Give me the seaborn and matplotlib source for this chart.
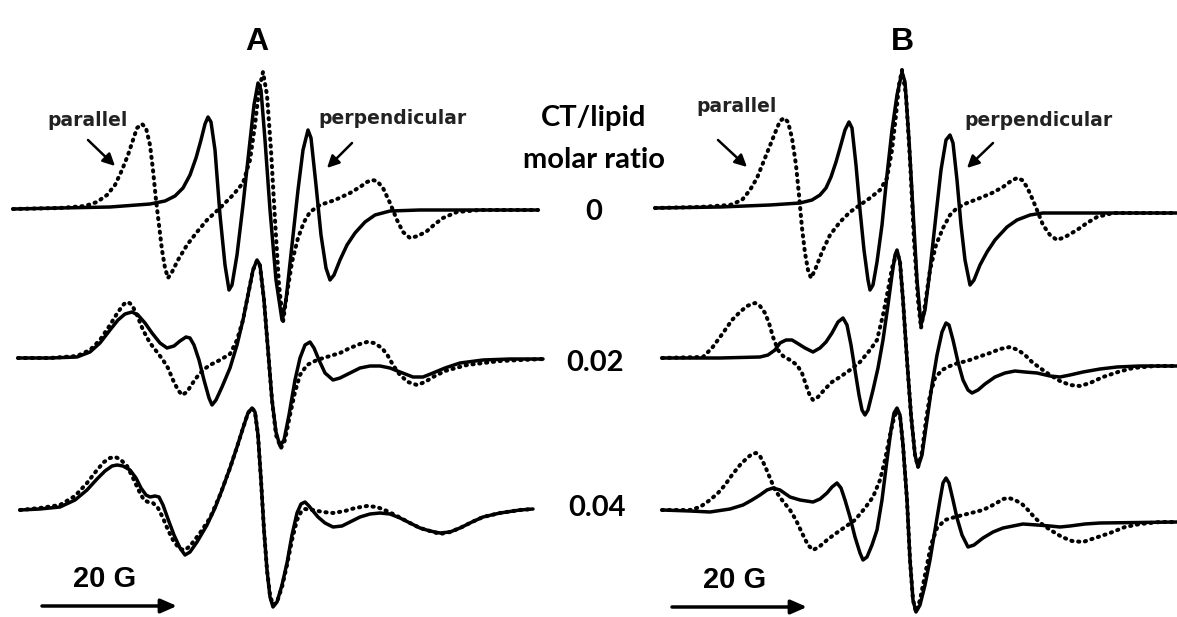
import matplotlib
matplotlib.use("Agg")
import matplotlib.pyplot as plt
import seaborn as sns
import pandas as pd

# ---------------- data (image-pixel frame) ----------------
# Panel A, ratio 0
A0_solid_x = [13, 60, 110, 150, 165, 175, 183, 190, 196, 201, 205, 208, 211, 215, 220, 225, 229, 232, 237, 243, 249, 254, 258, 261, 265, 270, 276, 282, 286, 292, 298, 303, 308, 311, 316, 321, 326, 330, 334, 340, 347, 355, 365, 375, 390, 420, 480, 538]
A0_solid_y = [209, 208, 207, 204, 201, 196, 188, 175, 158, 140, 124, 117, 122, 150, 215, 265, 290, 285, 255, 205, 150, 105, 83, 90, 140, 210, 280, 320, 300, 245, 190, 150, 130, 138, 185, 235, 268, 280, 275, 260, 245, 233, 222, 215, 211, 210, 210, 210]
A0_dot_x = [13, 60, 85, 97, 107, 115, 122, 128, 133, 137, 142, 146, 150, 153, 156, 159, 162, 165, 168, 172, 178, 187, 197, 207, 220, 233, 243, 250, 255, 259, 263, 267, 271, 275, 279, 283, 286, 292, 298, 304, 310, 320, 335, 350, 360, 367, 372, 377, 383, 390, 397, 403, 410, 418, 427, 435, 443, 457, 480, 538]
A0_dot_y = [209, 208, 206, 202, 195, 185, 170, 155, 140, 128, 124, 128, 145, 170, 200, 225, 250, 268, 278, 272, 260, 245, 232, 220, 208, 195, 183, 160, 125, 90, 72, 95, 150, 220, 285, 322, 300, 262, 238, 222, 212, 205, 200, 193, 187, 182, 180, 181, 188, 203, 220, 232, 238, 236, 231, 224, 218, 212, 210, 210]

# Panel A, ratio 0.02
A1_solid_x = [18, 50, 77, 90, 100, 110, 118, 125, 132, 138, 145, 152, 160, 167, 174, 180, 186, 190, 194, 199, 204, 209, 212, 216, 222, 230, 237, 243, 248, 253, 257, 260, 264, 268, 272, 276, 280, 284, 289, 295, 300, 305, 310, 314, 319, 325, 333, 340, 350, 360, 370, 380, 390, 400, 413, 423, 433, 445, 460, 483, 510, 543]
A1_solid_y = [358, 358, 357, 352, 343, 330, 320, 314, 312, 315, 323, 333, 343, 348, 346, 341, 337, 338, 345, 360, 380, 398, 405, 400, 387, 368, 345, 320, 295, 270, 260, 265, 300, 350, 400, 432, 446, 440, 415, 380, 358, 345, 342, 348, 360, 373, 380, 378, 373, 368, 366, 366, 368, 372, 377, 377, 373, 368, 363, 360, 359, 359]
A1_dot_x = [18, 50, 77, 90, 100, 110, 118, 124, 128, 132, 137, 143, 150, 157, 163, 168, 173, 178, 182, 187, 192, 197, 203, 210, 220, 230, 237, 243, 248, 253, 257, 260, 264, 268, 272, 276, 281, 285, 290, 295, 300, 307, 317, 330, 340, 350, 360, 367, 374, 382, 388, 393, 400, 408, 417, 425, 433, 445, 467, 500, 543]
A1_dot_y = [358, 358, 356, 350, 340, 325, 312, 304, 302, 305, 315, 330, 343, 352, 360, 368, 380, 390, 395, 392, 384, 377, 370, 365, 360, 354, 340, 320, 295, 270, 261, 266, 300, 350, 400, 435, 448, 440, 415, 392, 375, 365, 360, 356, 353, 348, 344, 342, 343, 348, 356, 365, 375, 382, 385, 382, 377, 371, 365, 361, 359]

# Panel A, ratio 0.04
A2_solid_x = [20, 40, 60, 75, 87, 97, 105, 112, 117, 123, 130, 136, 141, 146, 150, 155, 159, 163, 168, 174, 180, 185, 190, 197, 207, 215, 222, 230, 237, 243, 248, 252, 255, 258, 261, 264, 267, 270, 273, 277, 282, 287, 292, 297, 301, 305, 309, 313, 318, 325, 333, 342, 350, 360, 370, 380, 390, 400, 410, 420, 430, 440, 450, 460, 472, 483, 500, 520, 533]
A2_solid_y = [510, 509, 507, 500, 490, 479, 471, 466, 465, 466, 470, 478, 488, 495, 497, 496, 497, 505, 519, 535, 548, 555, 552, 542, 525, 508, 490, 468, 447, 428, 413, 408, 412, 435, 480, 530, 570, 597, 607, 602, 585, 563, 535, 513, 504, 502, 506, 511, 517, 523, 527, 526, 522, 517, 514, 513, 514, 518, 523, 528, 531, 533, 532, 528, 522, 517, 513, 510, 509]
A2_dot_x = [20, 40, 60, 75, 87, 97, 104, 110, 115, 120, 127, 133, 140, 144, 148, 153, 158, 163, 168, 174, 180, 185, 190, 200, 210, 220, 230, 237, 243, 248, 252, 255, 258, 261, 264, 267, 270, 273, 277, 282, 287, 292, 297, 301, 305, 313, 323, 333, 345, 355, 367, 377, 387, 397, 410, 420, 430, 440, 450, 460, 472, 483, 500, 520, 533]
A2_dot_y = [510, 508, 505, 496, 483, 470, 462, 458, 457, 459, 466, 478, 493, 500, 502, 503, 508, 518, 530, 542, 549, 550, 546, 533, 518, 495, 468, 447, 428, 413, 408, 412, 435, 480, 530, 570, 595, 605, 602, 587, 565, 540, 520, 512, 509, 510, 512, 513, 511, 508, 506, 507, 511, 516, 523, 528, 531, 534, 532, 528, 522, 517, 513, 510, 509]

# Panel B, ratio 0
B0_solid_x = [655, 720, 770, 800, 812, 820, 826, 831, 836, 840, 845, 849, 852, 856, 860, 864, 868, 870, 873, 877, 882, 887, 892, 897, 902, 905, 909, 913, 917, 921, 925, 930, 936, 941, 946, 950, 953, 957, 961, 965, 970, 974, 980, 987, 995, 1007, 1017, 1030, 1043, 1100, 1177]
B0_solid_y = [208, 207, 205, 203, 200, 195, 188, 177, 162, 148, 130, 122, 128, 165, 210, 250, 280, 290, 285, 262, 225, 175, 130, 95, 72, 82, 140, 210, 280, 325, 310, 270, 215, 170, 140, 135, 143, 180, 225, 260, 285, 280, 265, 252, 240, 227, 220, 215, 213, 213, 213]
B0_dot_x = [655, 700, 730, 742, 750, 757, 763, 769, 775, 780, 784, 788, 792, 796, 799, 802, 805, 808, 811, 815, 822, 830, 840, 850, 860, 870, 880, 887, 892, 896, 899, 902, 906, 910, 914, 918, 921, 925, 930, 936, 943, 950, 957, 967, 980, 992, 1003, 1011, 1017, 1022, 1027, 1032, 1037, 1043, 1050, 1057, 1065, 1077, 1087, 1097, 1113, 1177]
B0_dot_y = [208, 207, 205, 200, 190, 178, 163, 148, 133, 121, 118, 122, 138, 165, 195, 228, 253, 270, 278, 270, 252, 235, 222, 212, 205, 198, 190, 178, 150, 115, 85, 70, 95, 160, 240, 300, 328, 305, 270, 245, 228, 215, 208, 203, 198, 193, 187, 181, 178, 180, 187, 198, 210, 225, 235, 240, 237, 230, 223, 217, 213, 213]

# Panel B, ratio 0.02
B1_solid_x = [662, 720, 760, 768, 775, 780, 786, 792, 797, 805, 813, 820, 826, 832, 838, 843, 847, 851, 855, 859, 862, 865, 868, 873, 878, 883, 888, 892, 895, 897, 900, 903, 907, 911, 915, 918, 922, 927, 932, 937, 942, 946, 949, 953, 958, 963, 968, 972, 978, 985, 995, 1005, 1015, 1025, 1037, 1050, 1060, 1070, 1083, 1100, 1117, 1140, 1177]
B1_solid_y = [358, 358, 357, 355, 350, 343, 340, 340, 343, 348, 352, 348, 342, 333, 322, 318, 325, 345, 370, 395, 410, 415, 410, 390, 368, 340, 305, 275, 255, 250, 262, 300, 360, 415, 455, 467, 455, 420, 385, 355, 332, 323, 325, 340, 362, 380, 390, 393, 390, 384, 377, 373, 371, 372, 373, 376, 377, 375, 372, 369, 367, 366, 366]
B1_dot_x = [662, 703, 712, 723, 732, 740, 747, 755, 760, 765, 769, 773, 778, 783, 790, 797, 802, 806, 810, 813, 818, 825, 832, 840, 850, 860, 870, 877, 883, 888, 892, 897, 900, 903, 907, 911, 915, 918, 922, 926, 930, 935, 942, 950, 958, 967, 978, 990, 1000, 1010, 1018, 1025, 1032, 1040, 1050, 1060, 1070, 1080, 1090, 1103, 1118, 1133, 1155, 1177]
B1_dot_y = [358, 357, 348, 333, 320, 312, 306, 303, 306, 313, 323, 337, 350, 356, 360, 365, 373, 385, 396, 400, 397, 389, 382, 377, 370, 362, 350, 340, 315, 290, 268, 252, 262, 300, 360, 415, 455, 467, 452, 420, 395, 378, 370, 366, 363, 361, 357, 353, 349, 347, 350, 355, 362, 368, 375, 381, 385, 386, 383, 377, 372, 368, 366, 366]

# Panel B, ratio 0.04
B2_solid_x = [662, 690, 710, 730, 743, 752, 760, 767, 773, 780, 790, 800, 813, 820, 827, 832, 837, 841, 845, 850, 855, 860, 863, 867, 872, 877, 882, 887, 891, 894, 897, 900, 903, 907, 910, 913, 916, 920, 925, 930, 935, 940, 943, 946, 949, 953, 957, 962, 968, 974, 983, 993, 1003, 1013, 1023, 1037, 1050, 1060, 1070, 1085, 1100, 1177]
B2_solid_y = [510, 511, 512, 509, 505, 500, 495, 490, 488, 490, 497, 500, 502, 499, 493, 487, 483, 488, 500, 517, 537, 553, 560, 557, 545, 530, 500, 460, 430, 413, 408, 415, 445, 500, 560, 600, 612, 605, 585, 560, 530, 500, 483, 478, 483, 500, 518, 535, 547, 545, 538, 532, 528, 526, 524, 525, 526, 527, 526, 524, 523, 522]
B2_dot_x = [662, 690, 700, 710, 718, 725, 732, 740, 747, 752, 756, 760, 765, 770, 775, 782, 790, 796, 802, 808, 813, 819, 827, 835, 845, 855, 865, 873, 880, 885, 890, 894, 897, 900, 903, 907, 910, 913, 916, 920, 925, 931, 937, 945, 955, 967, 983, 995, 1003, 1009, 1015, 1022, 1028, 1035, 1043, 1052, 1062, 1072, 1083, 1095, 1110, 1125, 1140, 1160, 1177]
B2_dot_y = [510, 510, 507, 500, 493, 485, 475, 465, 458, 454, 453, 456, 466, 478, 490, 500, 510, 520, 533, 545, 550, 547, 540, 534, 527, 520, 508, 497, 480, 460, 435, 418, 410, 416, 445, 500, 560, 600, 612, 600, 575, 545, 528, 520, 517, 514, 510, 504, 499, 498, 500, 504, 510, 518, 525, 531, 537, 541, 542, 538, 533, 527, 524, 522, 522]

panel_labels = ["A", "B"]
ratio_labels = ["0", "0.02", "0.04"]
ratio_title = ["CT/lipid", "molar ratio"]
scale_label = "20 G"
orient_labels = ["parallel", "perpendicular"]

# ---------------- figure ----------------
sns.set_theme(style="white")
plt.rcParams["font.family"] = ["DejaVu Sans"]

fig = plt.figure(figsize=(11.77, 6.17), dpi=100)
ax = fig.add_axes([0, 0, 1, 1])

curves = [
    (A0_solid_x, A0_solid_y, "solid"), (A0_dot_x, A0_dot_y, "dot"),
    (A1_solid_x, A1_solid_y, "solid"), (A1_dot_x, A1_dot_y, "dot"),
    (A2_solid_x, A2_solid_y, "solid"), (A2_dot_x, A2_dot_y, "dot"),
    (B0_solid_x, B0_solid_y, "solid"), (B0_dot_x, B0_dot_y, "dot"),
    (B1_solid_x, B1_solid_y, "solid"), (B1_dot_x, B1_dot_y, "dot"),
    (B2_solid_x, B2_solid_y, "solid"), (B2_dot_x, B2_dot_y, "dot"),
]
for xs, ys, kind in curves:
    df = pd.DataFrame({"field": xs, "signal": ys})
    if kind == "solid":
        sns.lineplot(data=df, x="field", y="signal", ax=ax, sort=False, estimator=None,
                     color="black", linewidth=2.5, solid_joinstyle="round", solid_capstyle="round")
    else:
        sns.lineplot(data=df, x="field", y="signal", ax=ax, sort=False, estimator=None,
                     color="black", linewidth=2.9, linestyle=(0, (0.3, 1.4)),
                     dash_capstyle="round", dash_joinstyle="round")

ax.set_xlim(0, 1177)
ax.set_ylim(617, 0)
ax.set_axis_off()

# panel letters
ax.text(257, 42, panel_labels[0], ha="center", va="center", fontsize=23, fontweight="bold",
        family="Liberation Sans", color="black")
ax.text(902, 42, panel_labels[1], ha="center", va="center", fontsize=23, fontweight="bold",
        family="Liberation Sans", color="black")

# orientation labels and arrows
lab_kw = dict(ha="center", va="center", fontsize=13.5, fontweight="bold", color="#222222")
ax.text(88, 120, orient_labels[0], **lab_kw)
ax.text(392, 119, orient_labels[1], **lab_kw)
ax.text(737, 107, orient_labels[0], **lab_kw)
ax.text(1038, 120, orient_labels[1], **lab_kw)
arr_kw = dict(arrowstyle="-|>,head_length=0.6,head_width=0.3", color="black", lw=1.8, shrinkA=0, shrinkB=0)
ax.annotate("", xy=(115, 166), xytext=(88, 140), arrowprops=arr_kw)
ax.annotate("", xy=(327, 168), xytext=(352, 143), arrowprops=arr_kw)
ax.annotate("", xy=(747, 167), xytext=(718, 140), arrowprops=arr_kw)
ax.annotate("", xy=(967, 168), xytext=(993, 143), arrowprops=arr_kw)

# centre labels
cen_kw = dict(ha="center", va="center", fontsize=21, fontweight="bold", family="Lato", color="black")
ax.text(594, 118, ratio_title[0], **cen_kw)
ax.text(594, 160, ratio_title[1], **cen_kw)
ax.text(594, 212, ratio_labels[0], **cen_kw)
ax.text(595, 363, ratio_labels[1], **cen_kw)
ax.text(597, 508, ratio_labels[2], **cen_kw)

# scale bars
sc_kw = dict(ha="center", va="center", fontsize=21, fontweight="bold", family="Liberation Sans", color="black")
ax.text(105, 579, scale_label, **sc_kw)
ax.text(735, 580, scale_label, **sc_kw)
bar_kw = dict(arrowstyle="-|>,head_length=0.8,head_width=0.35", color="black", lw=2.5, shrinkA=0, shrinkB=0)
ax.annotate("", xy=(177, 606), xytext=(42, 606), arrowprops=bar_kw)
ax.annotate("", xy=(807, 607), xytext=(672, 607), arrowprops=bar_kw)

fig.savefig("out.png", dpi=100, facecolor="white")
